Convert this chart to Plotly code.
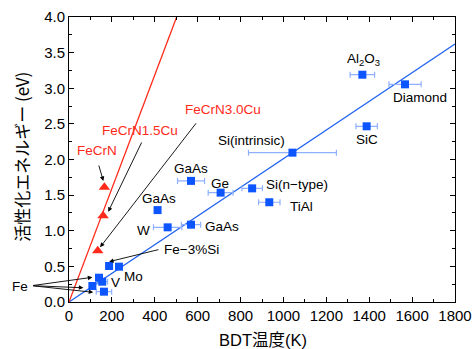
import plotly.graph_objects as go

# Blue data points (BDT temperature K, activation energy eV, x error)
blue_x = [1368, 1567, 1388, 1042, 569, 707, 854, 934, 569, 413, 460, 187, 233, 140, 155, 109, 163]
blue_y = [3.19, 3.055, 2.466, 2.096, 1.70, 1.535, 1.595, 1.40, 1.085, 1.29, 1.048, 0.505, 0.496, 0.341, 0.285, 0.225, 0.145]
blue_err = [57, 75, 50, 205, 63, 58, 48, 50, 45, 0, 66, 0, 0, 0, 25, 0, 36]

# Red triangles (FeCrN series)
red_x = [165, 159, 134]
red_y = [1.61, 1.21, 0.72]

# Fit lines (endpoints)
blue_line_x = [0, 1800]
blue_line_y = [0, 3.62]
red_line_x = [0, 502]
red_line_y = [0, 4.0]

x_ticks = [0, 200, 400, 600, 800, 1000, 1200, 1400, 1600, 1800]
y_ticks = [0.0, 0.5, 1.0, 1.5, 2.0, 2.5, 3.0, 3.5, 4.0]

# Text labels: (text, x, y, color)
labels = [
    ("Al<sub>2</sub>O<sub>3</sub>", 1372, 3.40, "black"),
    ("Diamond", 1637, 2.867, "black"),
    ("SiC", 1388, 2.28, "black"),
    ("Si(intrinsic)", 852, 2.26, "black"),
    ("GaAs", 569, 1.88, "black"),
    ("Ge", 704, 1.666, "black"),
    ("Si(n−type)", 1062, 1.656, "black"),
    ("TiAl", 1085, 1.347, "black"),
    ("GaAs", 712, 1.057, "black"),
    ("GaAs", 420, 1.446, "black"),
    ("W", 346, 1.01, "black"),
    ("Mo", 303, 0.355, "black"),
    ("V", 219, 0.276, "black"),
    ("FeCrN", 129, 2.12, "#ff2a1a"),
    ("FeCrN1.5Cu", 331, 2.414, "#ff2a1a"),
    ("FeCrN3.0Cu", 720, 2.695, "#ff2a1a"),
]

# Arrows: (tail x, tail y, head x, head y)
arrows = [
    (137, 1.937, 160, 1.70),
    (342, 2.26, 183, 1.267),
    (598, 2.53, 145, 0.768),
    (424, 0.74, 187, 0.566),
    (-174, 0.229, 109, 0.347),
    (-174, 0.229, 67, 0.20),
    (-174, 0.229, 113, 0.136),
]

FONT = "Liberation Sans, Arial, Noto Sans CJK JP, sans-serif"
BLUE = "#0d55ff"
RED = "#ff2a1a"

fig = go.Figure()
fig.add_trace(go.Scatter(x=blue_line_x, y=blue_line_y, mode="lines",
                         line=dict(color="#1f62f0", width=1.3), hoverinfo="skip"))
fig.add_trace(go.Scatter(x=red_line_x, y=red_line_y, mode="lines",
                         line=dict(color=RED, width=1.3), hoverinfo="skip"))
fig.add_trace(go.Scatter(x=blue_x, y=blue_y, mode="markers",
                         marker=dict(symbol="square", size=8, color=BLUE),
                         error_x=dict(type="data", array=blue_err, color="#8fb0ff",
                                      thickness=1.2, width=3)))
fig.add_trace(go.Scatter(x=red_x, y=red_y, mode="markers",
                         marker=dict(symbol="triangle-up", size=10, color=RED)))

annotations = []
for t, x, y, c in labels:
    annotations.append(dict(text=t, x=x, y=y, xref="x", yref="y", showarrow=False,
                            font=dict(family=FONT, size=13.5, color=c),
                            xanchor="center", yanchor="middle"))
annotations.append(dict(text="Fe−3%Si", x=424, y=0.74, xref="x", yref="y", showarrow=False,
                        font=dict(family=FONT, size=13.5, color="black"),
                        xanchor="left", yanchor="middle", xshift=2))
annotations.append(dict(text="Fe", x=-0.097, y=0.056, xref="paper", yref="paper", showarrow=False,
                        font=dict(family=FONT, size=13.5, color="black"),
                        xanchor="right", yanchor="middle", xshift=-2))
for tx, ty, hx, hy in arrows:
    annotations.append(dict(text="", x=hx, y=hy, ax=tx, ay=ty, xref="x", yref="y",
                            axref="x", ayref="y", showarrow=True, arrowhead=2,
                            arrowsize=1, arrowwidth=0.9, arrowcolor="black"))
annotations.append(dict(text="活性化エネルギー (eV)", x=-0.122, y=0.509, xref="paper", yref="paper",
                        showarrow=False, textangle=-90,
                        font=dict(family="Noto Sans CJK JP, Liberation Sans", size=17, color="black"),
                        xanchor="center", yanchor="middle"))
annotations.append(dict(text="BDT温度(K)", x=0.5026, y=-0.133, xref="paper", yref="paper",
                        showarrow=False,
                        font=dict(family="Liberation Sans, Noto Sans CJK JP", size=16.5, color="black"),
                        xanchor="center", yanchor="middle"))

fig.update_layout(
    width=473, height=349,
    margin=dict(l=69, r=18, t=17, b=47, autoexpand=False),
    paper_bgcolor="white", plot_bgcolor="white",
    showlegend=False,
    annotations=annotations,
    font=dict(family=FONT, color="black"),
)
fig.update_xaxes(range=[0, 1800], tickvals=x_ticks, ticktext=[str(v) for v in x_ticks],
                 ticks="inside", ticklen=5, tickcolor="black", showline=True, linecolor="black",
                 linewidth=1, mirror="ticks", showgrid=False, zeroline=False, automargin=False,
                 tickfont=dict(family=FONT, size=15, color="black"),
                 minor=dict(dtick=100, tick0=0, ticks="inside", ticklen=3, tickcolor="black"))
fig.update_yaxes(range=[0, 4], tickvals=y_ticks, ticktext=[f"{v:.1f}" for v in y_ticks],
                 ticks="inside", ticklen=5, tickcolor="black", showline=True, linecolor="black",
                 linewidth=1, mirror="ticks", showgrid=False, zeroline=False, automargin=False,
                 tickfont=dict(family=FONT, size=15, color="black"),
                 minor=dict(dtick=0.25, tick0=0, ticks="inside", ticklen=3, tickcolor="black"))

fig.write_html("out.html", config={"displayModeBar": False},
               post_script="document.body.style.margin='0';document.body.style.padding='0';")
